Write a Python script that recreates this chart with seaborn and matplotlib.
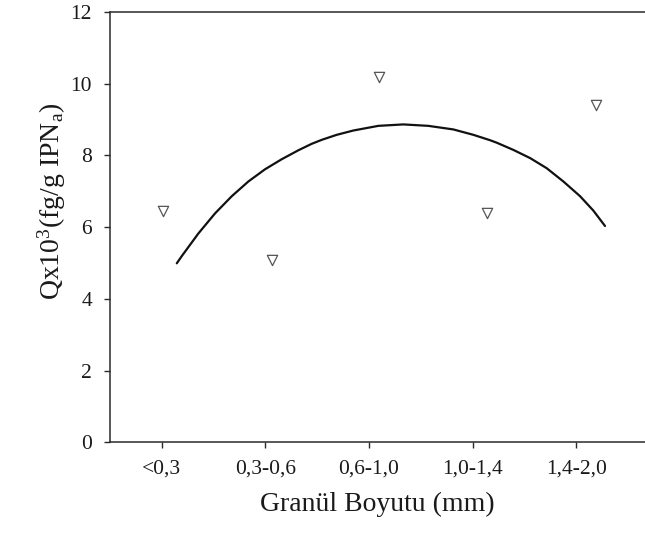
import matplotlib
matplotlib.use("Agg")
import matplotlib.pyplot as plt
import seaborn as sns
import pandas as pd

# Categories (tick labels) and their axis positions
categories = ["<0,3", "0,3-0,6", "0,6-1,0", "1,0-1,4", "1,4-2,0"]
tick_pos = [1, 2, 3, 4, 5]

# Measured points (x as drawn on the axis, y values)
point_x = [1.01, 2.06, 3.10, 4.14, 5.19]
point_y = [6.46, 5.09, 10.19, 6.39, 9.41]

# Fitted curve
curve_x = [1.145, 1.193, 1.353, 1.514, 1.676, 1.836, 1.997, 2.158, 2.319, 2.448, 2.544,
           2.689, 2.849, 3.091, 3.332, 3.573, 3.815, 4.008, 4.169, 4.234, 4.394, 4.557,
           4.716, 4.877, 5.038, 5.166, 5.279]
curve_y = [4.99, 5.19, 5.82, 6.38, 6.86, 7.27, 7.61, 7.89, 8.14, 8.32, 8.43,
           8.57, 8.69, 8.82, 8.86, 8.82, 8.72, 8.57, 8.42, 8.35, 8.15, 7.92,
           7.64, 7.27, 6.86, 6.46, 6.03]

sns.set_theme(style="ticks")
plt.rcParams["font.family"] = ["Liberation Serif", "DejaVu Serif"]
plt.rcParams["mathtext.fontset"] = "custom"
plt.rcParams["mathtext.rm"] = "Liberation Serif"
plt.rcParams["mathtext.it"] = "Liberation Serif:italic"

fig = plt.figure(figsize=(6.45, 5.33), dpi=100)
ax = fig.add_axes([0.1705, 0.170, 1.0 - 0.1705, 0.978 - 0.170])

pts = pd.DataFrame({"x": point_x, "y": point_y})
crv = pd.DataFrame({"x": curve_x, "y": curve_y})

sns.lineplot(data=crv, x="x", y="y", ax=ax, color="#111111", linewidth=1.6, sort=True,
             solid_joinstyle="round", solid_capstyle="round")
sns.scatterplot(data=pts, x="x", y="y", ax=ax, marker="v", s=55,
                facecolor="white", edgecolor="#555555", linewidth=0.9, zorder=3)

ax.set_xlim(0.5, 5.665)
ax.set_ylim(0, 12)
ax.set_xticks(tick_pos)
ax.set_xticklabels(categories)
ax.set_yticks([0, 2, 4, 6, 8, 10, 12])

spine_color = "#2a2a2a"
for side in ["left", "bottom", "top"]:
    ax.spines[side].set_visible(True)
    ax.spines[side].set_color(spine_color)
    ax.spines[side].set_linewidth(1.1)
ax.spines["right"].set_visible(False)

ax.tick_params(axis="both", direction="out", length=4, width=1.0, color=spine_color,
               labelsize=15.5, labelcolor="#1a1a1a")
ax.tick_params(axis="x", pad=8)
ax.tick_params(axis="y", pad=9)

ax.set_xlabel("Granül Boyutu (mm)", fontsize=20, color="#1a1a1a", labelpad=10)
ax.set_ylabel(r"Qx10$^{3}$(fg/g IPN$_{\mathrm{a}}$)", fontsize=20, color="#1a1a1a")
ax.yaxis.set_label_coords(-0.079, 0.56)

fig.savefig("out.png", dpi=100)
